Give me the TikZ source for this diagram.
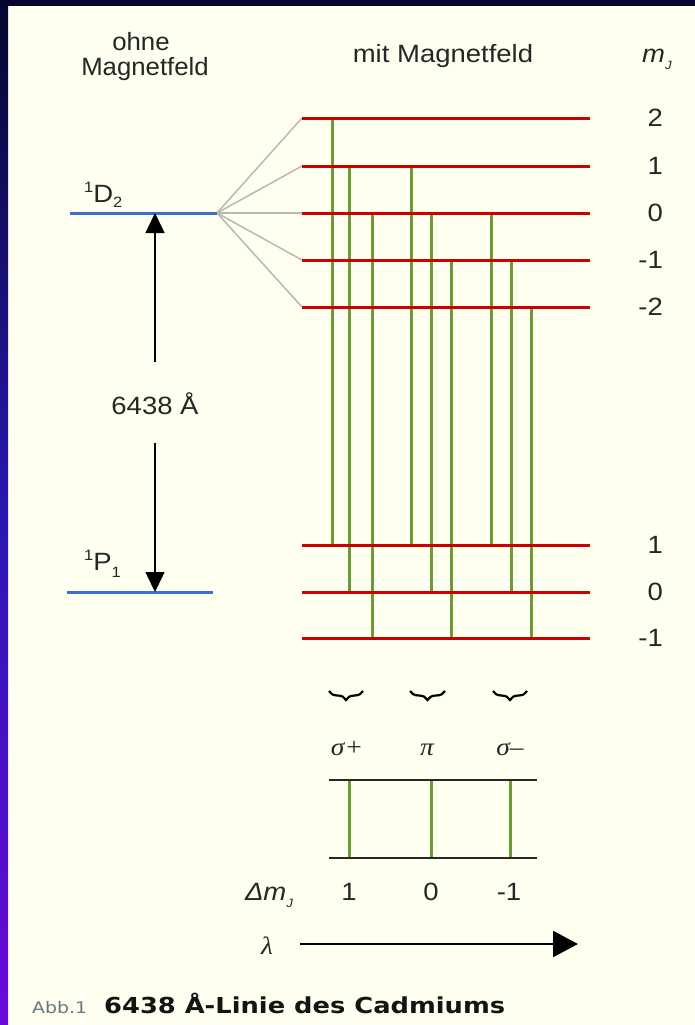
\documentclass[tikz,border=0pt]{standalone}
\usepackage{graphicx}
\usepackage{fontspec}
\setmainfont{Liberation Sans}
\newfontfamily\gsym{Liberation Serif}
\newfontfamily\capfont{DejaVu Sans}
\usetikzlibrary{decorations.pathreplacing,arrows.meta}
\definecolor{bgc}{HTML}{FFFFF0}
\definecolor{lvlred}{HTML}{CC0000}
\definecolor{lvlblue}{HTML}{3C6FD1}
\definecolor{trgreen}{HTML}{6B9B37}
\definecolor{fangray}{HTML}{B8B8B8}
\definecolor{navy}{HTML}{06062E}
\definecolor{bordmid}{HTML}{2A18B0}
\definecolor{bordbot}{HTML}{6A0AD8}
\definecolor{capgray}{HTML}{6A7684}
\definecolor{captext}{HTML}{141414}
\newcommand\hx[1]{\scalebox{1.1}[1]{#1}}
\tikzset{
  lab/.style={inner sep=0pt, font=\fontsize{25}{30}\selectfont, text=black!85},
  sublvl/.style={lvlred, line width=3pt},
  mainlvl/.style={lvlblue, line width=3pt},
  fan/.style={fangray, line width=1.5pt},
  trans/.style={trgreen, line width=3pt},
  frame/.style={black!85, line width=1.8pt},
  bigarrow/.style={black, line width=1.5pt, -{Triangle[length=20pt,width=19pt]}},
  lamarrow/.style={black, line width=2pt, -{Triangle[length=25pt,width=26pt]}},
  ubrace/.style={black, line width=2.2pt, decorate, decoration={brace, mirror, amplitude=9pt, aspect=0.5}}
}
\begin{document}
\begin{tikzpicture}[x=1pt,y=-1pt]
\useasboundingbox (0,0) rectangle (695,1025);
% background and border
\fill[bgc] (0,0) rectangle (695,1025);
\shade[top color=navy, bottom color=bordbot, middle color=bordmid] (0,0) rectangle (8,1025);
\fill[navy] (0,0) rectangle (695,6);

% headers
\node[lab, anchor=base] (ohne) at (141,51) {\scalebox{1.03}[1]{ohne}};
\node[lab, anchor=base] (ohnemf) at (145,76) {\scalebox{1.03}[1]{Magnetfeld}};
\node[lab, anchor=base] (mitmf) at (443,63) {\hx{mit Magnetfeld}};
\node[lab, anchor=base west] (mjhead) at (642,63) {\hx{\itshape m\raisebox{-7pt}{\fontsize{12}{12}\selectfont J}}};

% main levels
\coordinate (D2L) at (70,213);
\coordinate (D2R) at (217,213);
\coordinate (P1L) at (67,592);
\coordinate (P1R) at (213,592);
\node[lab, anchor=base west] (D2lab) at (84,202) {\hx{\raisebox{10pt}{\fontsize{15}{15}\selectfont 1}D\raisebox{-5pt}{\fontsize{15}{15}\selectfont 2}}};
\node[lab, anchor=base west] (P1lab) at (84,570) {\hx{\raisebox{10pt}{\fontsize{15}{15}\selectfont 1}P\raisebox{-7pt}{\fontsize{15}{15}\selectfont 1}}};

% upper sublevels
\foreach \n/\y/\m in {u2/118/2, u1/166/1, u0/213/0, um1/260/-1, um2/307/-2}{
  \coordinate (\n L) at (302,\y);
  \coordinate (\n R) at (590,\y);
  \draw[fan] (D2R) -- (\n L);
  \node[lab, anchor=east] (\n lab) at (663,\y) {\hx{\m}};
}
% lower sublevels
\foreach \n/\y/\m in {l1/545/1, l0/592/0, lm1/638/-1}{
  \coordinate (\n L) at (302,\y);
  \coordinate (\n R) at (590,\y);
  \node[lab, anchor=east] (\n lab) at (663,\y) {\hx{\m}};
}

% transitions
\foreach \i/\x/\yu/\yl in {1/332/118/545, 2/349/166/592, 3/372/213/638,
                           4/411/166/545, 5/431/213/592, 6/451/260/638,
                           7/491/213/545, 8/511/260/592, 9/531/307/638}{
  \coordinate (tu\i) at (\x,\yu);
  \coordinate (tl\i) at (\x,\yl);
  \draw[trans] (tu\i) -- (tl\i);
}

% level lines on top
\foreach \n in {u2,u1,u0,um1,um2,l1,l0,lm1}{
  \draw[sublvl] (\n L) -- (\n R);
}
\draw[mainlvl] (D2L) -- (D2R);
\draw[mainlvl] (P1L) -- (P1R);

% wavelength arrow
\node[lab] (wl) at (155,404) {\hx{6438 Å}};
\coordinate (aT) at (155,213);
\coordinate (aU) at (155,362);
\coordinate (aB) at (155,592);
\coordinate (aL) at (155,443);
\draw[bigarrow] (aU) -- (aT);
\draw[bigarrow] (aL) -- (aB);

% braces
\foreach \i/\xa/\xb in {1/329/363, 2/410/445, 3/493/527}{
  \coordinate (bl\i) at (\xa,691);
  \coordinate (br\i) at (\xb,691);
  \draw[ubrace] (bl\i) -- (br\i);
}
\node[lab, anchor=base] (sp) at (347,755) {\hx{\gsym\itshape σ+}};
\node[lab, anchor=base] (pi) at (427,755) {\hx{\gsym\itshape π}};
\node[lab, anchor=base] (sm) at (510,755) {\hx{\gsym\itshape σ–}};

% spectrum box
\coordinate (fTL) at (329,780);
\coordinate (fTR) at (537,780);
\coordinate (fBL) at (329,858);
\coordinate (fBR) at (537,858);
\foreach \i/\x in {1/349, 2/431, 3/510}{
  \coordinate (st\i) at (\x,780);
  \coordinate (sb\i) at (\x,858);
  \draw[trans] (st\i) -- (sb\i);
}
\draw[frame] (fTL) -- (fTR);
\draw[frame] (fBL) -- (fBR);

% delta m labels
\node[lab, anchor=base] (dm) at (269,900) {\hx{\itshape Δm\raisebox{-7pt}{\fontsize{12}{12}\selectfont J}}};
\node[lab, anchor=base] (dm1) at (349,900) {\hx{1}};
\node[lab, anchor=base] (dm0) at (431,900) {\hx{0}};
\node[lab, anchor=base] (dmm) at (509,900) {\hx{-1}};

% lambda arrow
\node[lab, anchor=base] (lam) at (267,954) {\hx{\gsym\itshape λ}};
\coordinate (lA) at (300,944);
\coordinate (lB) at (578,944);
\draw[lamarrow] (lA) -- (lB);

% caption
\node[anchor=base west, inner sep=0pt, text=capgray, font=\capfont\fontsize{16}{18}\selectfont] (abb) at (32,1013) {\scalebox{1.18}[1]{Abb.1}};
\node[anchor=base west, inner sep=0pt, text=captext, font=\capfont\bfseries\fontsize{22}{26}\selectfont] (cap) at (104,1013) {\scalebox{1.17}[1]{6438 Å-Linie des Cadmiums}};
\end{tikzpicture}
\end{document}
